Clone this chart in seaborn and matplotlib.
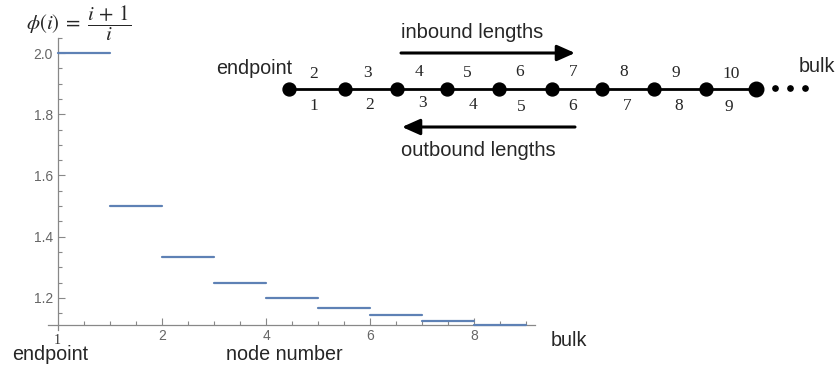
import numpy as np
import pandas as pd
import matplotlib
matplotlib.use('Agg')
import matplotlib.pyplot as plt
import seaborn as sns

# step values phi(i) = (i+1)/i
node_index = [1, 2, 3, 4, 5, 6, 7, 8, 9]
phi_values = [2.0, 1.5, 1.333, 1.25, 1.2, 1.167, 1.143, 1.125, 1.111]
seg_start = [0, 1, 2, 3, 4, 5, 6, 7, 8]
seg_end = [1, 2, 3, 4, 5, 6, 7, 8, 9]

x_tick_labels = ['2', '4', '6', '8']
y_tick_labels = ['1.2', '1.4', '1.6', '1.8', '2.0']

# chain diagram labels
inbound_labels = ['2', '3', '4', '5', '6', '7', '8', '9', '10']
outbound_labels = ['1', '2', '3', '4', '5', '6', '7', '8', '9']

# chain diagram layout (pixels, figure coords from top-left)
chain_x = [289, 345, 397, 447, 499, 552, 602, 654, 706, 756]
inbound_x = [314, 368, 419, 467, 520, 573, 624, 676, 731]
inbound_y = [74, 73, 72, 73, 72, 72, 72, 73, 74]
outbound_x = [314, 370, 423, 473, 521, 573, 627, 679, 729]
outbound_y = [106, 105, 103, 105, 107, 106, 106, 106, 107]

sns.set_style('ticks')
plt.rcParams['font.family'] = ['Liberation Sans', 'DejaVu Sans']
plt.rcParams['mathtext.fontset'] = 'stix'

W, H = 837, 371
fig = plt.figure(figsize=(W / 100, H / 100), dpi=100)

# --- step plot ---
ax = fig.add_axes([48 / W, 1 - 330 / H, 487 / W, (330 - 37.7) / H])
steps = pd.DataFrame({
    'node': node_index + node_index,
    'x': seg_start + seg_end,
    'phi': phi_values + phi_values,
})
sns.lineplot(data=steps, x='x', y='phi', units='node', estimator=None, sort=False,
             color='#5E81B5', lw=1.6, ax=ax, zorder=3)

ax.set_xlim(-0.19, 9.17)
ax.set_ylim(1.095, 2.05)
ax.spines['left'].set_position(('data', 0))
ax.spines['bottom'].set_position(('data', 10 / 9))
ax.spines['top'].set_visible(False)
ax.spines['right'].set_visible(False)
for s in ('left', 'bottom'):
    ax.spines[s].set_color('#888888')
    ax.spines[s].set_linewidth(0.9)

ax.set_xticks([2, 4, 6, 8], x_tick_labels)
ax.set_xticks(np.arange(0.5, 9.01, 0.5), minor=True)
ax.set_yticks([1.2, 1.4, 1.6, 1.8, 2.0], y_tick_labels)
ax.set_yticks(np.arange(1.15, 2.051, 0.05), minor=True)
ax.tick_params(which='both', direction='in', color='#888888', width=0.8,
               labelcolor='#666666', labelsize=10)
ax.tick_params(which='major', length=5)
ax.tick_params(which='minor', length=3)
ax.tick_params(axis='x', pad=3)
ax.set_xlabel('')
ax.set_ylabel('')

# --- overlay for annotations and chain diagram ---
ov = fig.add_axes([0, 0, 1, 1], zorder=5)
ov.set_xlim(0, W)
ov.set_ylim(H, 0)
ov.axis('off')
ov.patch.set_alpha(0)

ov.text(26, 23, r'$\phi(i)\;=\;\dfrac{i\,+\,1}{i}$', fontsize=15, ha='left', va='center')
ov.text(57, 340, '1', family='Liberation Serif', fontsize=10, color='#333333',
        ha='center', va='center')
ov.text(12, 355, 'endpoint', fontsize=14.2, ha='left', va='center')
ov.text(226, 355, 'node number', fontsize=14.2, ha='left', va='center')
ov.text(551, 340, 'bulk', fontsize=14.2, ha='left', va='center')

# chain
ov.plot([chain_x[0], chain_x[-1]], [89, 89], color='black', lw=2, zorder=1)
ov.plot(chain_x[:-1], [89] * (len(chain_x) - 1), 'o', color='black', ms=9.3, zorder=2)
ov.plot(chain_x[-1:], [89], 'o', color='black', ms=10.5, zorder=2)
ov.plot([775, 790, 805], [88, 88, 88], 'o', color='black', ms=3.8)

for lab, x, y in zip(inbound_labels, inbound_x, inbound_y):
    ov.text(x, y, lab, family='Liberation Serif', fontsize=12.5, ha='center', va='center')
for lab, x, y in zip(outbound_labels, outbound_x, outbound_y):
    ov.text(x, y, lab, family='Liberation Serif', fontsize=12.5, ha='center', va='center')

arrow_style = dict(arrowstyle='-|>,head_length=0.9,head_width=0.4', color='black',
                   lw=2.2, mutation_scale=12, shrinkA=0, shrinkB=0)
ov.annotate('', xy=(575, 53), xytext=(401, 53), arrowprops=arrow_style)
ov.annotate('', xy=(402, 127), xytext=(575, 127), arrowprops=arrow_style)

ov.text(401, 33, 'inbound lengths', fontsize=14.5, ha='left', va='center')
ov.text(401, 151, 'outbound lengths', fontsize=14.5, ha='left', va='center')
ov.text(292, 69, 'endpoint', fontsize=14.2, ha='right', va='center')
ov.text(799, 66, 'bulk', fontsize=14.2, ha='left', va='center')

fig.savefig('out.png', dpi=100)
